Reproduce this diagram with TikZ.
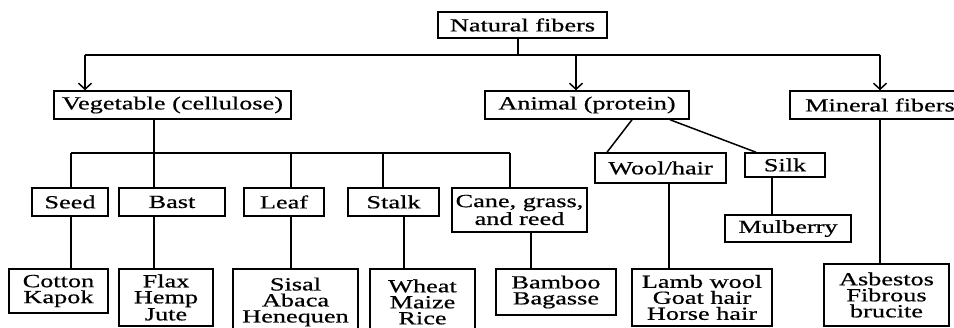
\documentclass[tikz,border=0pt]{standalone}
\usepackage{fontspec}
\setmainfont{Liberation Serif}[FakeStretch=1.42,FakeBold=0.6]
\usetikzlibrary{arrows.meta}
\newcommand\mybox[6]{\node[box,minimum width=#4pt,minimum height=#5pt] (#1) at (#2,#3) {#6};}
\begin{document}
\begin{tikzpicture}[x=1pt,y=-1pt,
  box/.style={draw, line width=1.5pt, inner sep=0pt, align=center, font=\fontsize{18.5}{16}\selectfont},
  ln/.style={line width=1.5pt},
  arr/.style={ln, -{Straight Barb[length=6pt,width=13pt,line width=1.5pt]}}]
\useasboundingbox (0,0) rectangle (954,328);
\fill[white] (0,0) rectangle (954,328);
% nodes
\mybox{nat}{522.5}{25}{169}{26}{Natural fibers}
\mybox{veg}{172.5}{105}{237}{28}{Vegetable (cellulose)}
\mybox{ani}{587}{105}{204}{28}{Animal (protein)}
\mybox{min}{880}{105}{180}{28}{Mineral fibers}
\mybox{seed}{70}{202}{76}{28}{Seed}
\mybox{bast}{172}{202}{106}{28}{Bast}
\mybox{leaf}{284}{202}{80}{28}{Leaf}
\mybox{stalk}{393.5}{202}{91}{28}{Stalk}
\mybox{cane}{519.5}{210}{135}{44}{Cane, grass,\\and reed}
\mybox{wool}{660.5}{168}{131}{30}{Wool/hair}
\mybox{silk}{785}{165}{80}{24}{Silk}
\mybox{mul}{788}{228.5}{126}{27}{Mulberry}
\mybox{cot}{58.5}{291}{99}{44}{Cotton\\Kapok}
\mybox{flax}{166}{297.5}{94}{57}{Flax\\Hemp\\Jute}
\mybox{sisal}{295.5}{302}{125}{66}{Sisal\\Abaca\\Henequen}
\mybox{wheat}{422.5}{302}{105}{66}{Wheat\\Maize\\Rice}
\mybox{bam}{556}{292}{120}{46}{Bamboo\\Bagasse}
\mybox{lamb}{702}{297.5}{140}{57}{Lamb wool\\Goat hair\\Horse hair}
\mybox{asb}{886.5}{295}{125}{62}{Asbestos\\Fibrous\\brucite}
% top level
\coordinate (natS) at (518,55);
\coordinate (busL) at (85,55);
\coordinate (busA) at (576,55);
\coordinate (busR) at (880,55);
\draw[ln] (natS |- nat.south) -- (natS);
\draw[ln] (busL) -- (busR);
\draw[arr] (busL) -- (busL |- veg.north);
\draw[arr] (busA) -- (busA |- ani.north);
\draw[arr] (busR) -- (min.north);
% vegetable
\coordinate (vS) at (154,153);
\coordinate (vL) at (71,153);
\coordinate (vLeaf) at (291,153);
\coordinate (vStalk) at (383,153);
\coordinate (vR) at (510,153);
\draw[ln] (vS |- veg.south) -- (vS);
\draw[ln] (vL) -- (vR);
\draw[ln] (vL) -- (vL |- seed.north);
\draw[ln] (vS) -- (vS |- bast.north);
\draw[ln] (vLeaf) -- (vLeaf |- leaf.north);
\draw[ln] (vStalk) -- (vStalk |- stalk.north);
\draw[ln] (vR) -- (vR |- cane.north);
% lower stems
\coordinate (x1) at (71,0);
\coordinate (x2) at (154,0);
\coordinate (x3) at (291,0);
\coordinate (x4) at (404,0);
\coordinate (x5) at (531,0);
\coordinate (x6) at (669,0);
\coordinate (x7) at (772,0);
\coordinate (x8) at (880,0);
\draw[ln] (x1 |- seed.south) -- (x1 |- cot.north);
\draw[ln] (x2 |- bast.south) -- (x2 |- flax.north);
\draw[ln] (x3 |- leaf.south) -- (x3 |- sisal.north);
\draw[ln] (x4 |- stalk.south) -- (x4 |- wheat.north);
\draw[ln] (x5 |- cane.south) -- (x5 |- bam.north);
\draw[ln] (x6 |- wool.south) -- (x6 |- lamb.north);
\draw[ln] (x7 |- silk.south) -- (x7 |- mul.north);
\draw[ln] (x8 |- min.south) -- (x8 |- asb.north);
% animal
\coordinate (a1) at (632,0);
\coordinate (w1) at (607,0);
\coordinate (a2) at (670,0);
\coordinate (k1) at (756,0);
\draw[ln] (a1 |- ani.south) -- (w1 |- wool.north);
\draw[ln] (a2 |- ani.south) -- (k1 |- silk.north);
\end{tikzpicture}
\end{document}
